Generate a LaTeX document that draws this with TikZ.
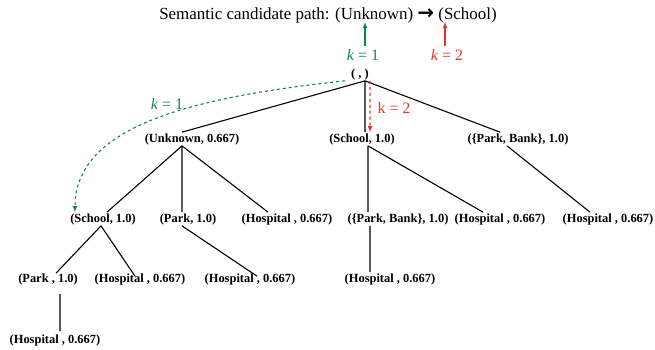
\documentclass[tikz,border=0pt]{standalone}
\usepackage{amsmath}
\usepackage{fontspec}
\setmainfont{Liberation Serif}
\newfontfamily\arrowfont{DejaVu Sans}
\usepackage{xcolor}
\definecolor{kgreen}{RGB}{16,135,72}
\definecolor{kred}{RGB}{235,50,40}

\begin{document}
\begin{tikzpicture}[x=1bp,y=-1bp,>=latex,
  tnode/.style={font=\bfseries\fontsize{12.5}{14}\selectfont, inner sep=1bp},
  edge/.style={line width=1.1bp},
  klab/.style={font=\fontsize{16}{18}\selectfont}]
\useasboundingbox (0,0) rectangle (655,349);
  % title and the two k arrows
  \node (title) at (328,15) {\fontsize{17}{19}\selectfont Semantic candidate path: (Unknown) {\arrowfont\bfseries\fontsize{20}{20}\selectfont →} (School)};
  \coordinate (gtip) at (365,22);
  \coordinate (rtip) at (445,22);
  \node[klab,text=kgreen] (ktopa) at (363,55) {\textit{k} = 1};
  \node[klab,text=kred] (ktopb) at (447,55) {\textit{k} = 2};
  \draw[->,kgreen,edge] (ktopa.north -| gtip) -- (gtip);
  \draw[->,kred,edge] (ktopb.north -| rtip) -- (rtip);

  % tree
  \node[tnode] (root) at (360,74) {( , )};
  \node[tnode] (unk) at (192,139) {(Unknown, 0.667)};
  \node[tnode] (sch) at (362,139) {(School, 1.0)};
  \node[tnode] (pb) at (518,139) {(\{Park, Bank\}, 1.0)};

  \node[tnode] (schb) at (103,219) {(School, 1.0)};
  \node[tnode] (parkb) at (188,219) {(Park, 1.0)};
  \node[tnode] (hospa) at (287,219) {(Hospital , 0.667)};
  \node[tnode] (pbb) at (398,219) {(\{Park, Bank\}, 1.0)};
  \node[tnode] (hospb) at (500,219) {(Hospital , 0.667)};
  \node[tnode] (hospc) at (608,219) {(Hospital , 0.667)};

  \node[tnode] (parkc) at (48,279) {(Park , 1.0)};
  \node[tnode] (hospd) at (140,279) {(Hospital , 0.667)};
  \node[tnode] (hospe) at (250,279) {(Hospital , 0.667)};
  \node[tnode] (hospf) at (390,279) {(Hospital , 0.667)};

  \node[tnode] (hospg) at (55,340) {(Hospital , 0.667)};

  \draw[edge] ([xshift=5bp]root.south) -- ([xshift=-10bp]unk.north);
  \draw[edge] ([xshift=5bp]root.south) -- ([xshift=3bp]sch.north);
  \draw[edge] ([xshift=5bp]root.south) -- ([xshift=-18bp]pb.north);

  \draw[edge] ([xshift=-10bp]unk.south) -- ([xshift=4bp]schb.north);
  \draw[edge] ([xshift=-10bp]unk.south) -- ([xshift=-6bp]parkb.north);
  \draw[edge] ([xshift=-10bp]unk.south) -- ([xshift=-19bp]hospa.north);
  \draw[edge] ([xshift=6bp]sch.south) -- ([xshift=-30bp]pbb.north);
  \draw[edge] ([xshift=6bp]sch.south) -- ([xshift=-17bp]hospb.north);
  \draw[edge] ([xshift=-11bp]pb.south) -- ([xshift=-18bp]hospc.north);

  \draw[edge] ([xshift=-2bp]schb.south) -- ([xshift=8bp,yshift=-1bp]parkc.north);
  \draw[edge] ([xshift=-2bp]schb.south) -- ([xshift=-5bp,yshift=-4bp]hospd.north);
  \draw[edge] ([xshift=-6bp]parkb.south) -- ([xshift=7bp,yshift=-4bp]hospe.north);
  \draw[edge] ([xshift=-28bp]pbb.south) -- ([xshift=-20bp]hospf.north);
  \draw[edge,shorten <=8bp,shorten >=2bp] ([xshift=12bp]parkc.south) -- ([xshift=5bp]hospg.north);

  % search steps
  \draw[->,kgreen,dashed,edge] ([xshift=-15bp]root.south) .. controls (195,97) and (75,125) .. ([xshift=-28bp]schb.north);
  \node[klab,text=kgreen] (kcurve) at (167,104) {\textit{k} = 1};
  \draw[->,kred,dashed,edge] ([xshift=10bp]root.south) -- ([xshift=8bp]sch.north);
  \node[klab,text=kred] (kdown) at (394,108) {k = 2};
\end{tikzpicture}
\end{document}
